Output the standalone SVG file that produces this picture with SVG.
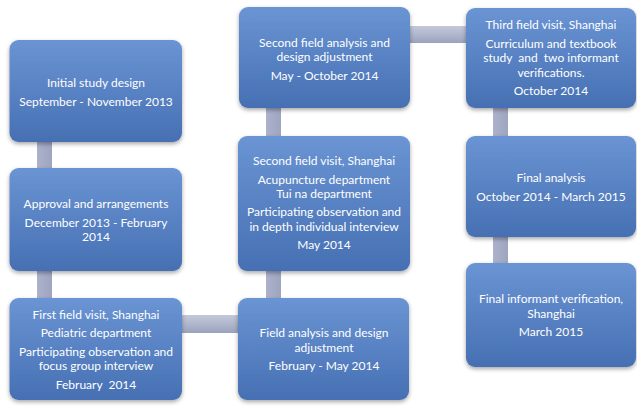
<svg xmlns="http://www.w3.org/2000/svg" width="637" height="412" viewBox="0 0 637 412">
  <defs>
    <linearGradient id="boxFill" x1="0" y1="0" x2="0" y2="1">
      <stop offset="0" stop-color="#6a94d3"/>
      <stop offset="1" stop-color="#4670b3"/>
    </linearGradient>
    <linearGradient id="barH" x1="0" y1="0" x2="0" y2="1">
      <stop offset="0" stop-color="#c3c9da"/>
      <stop offset="0.5" stop-color="#b0b7cc"/>
      <stop offset="1" stop-color="#9aa2bd"/>
    </linearGradient>
    <linearGradient id="barV" x1="0" y1="0" x2="1" y2="0">
      <stop offset="0" stop-color="#acb2cb"/>
      <stop offset="1" stop-color="#9ea5c0"/>
    </linearGradient>
    <filter id="shadow" x="-10%" y="-10%" width="120%" height="130%">
      <feDropShadow dx="0" dy="2" stdDeviation="2" flood-color="#000" flood-opacity="0.35"/>
    </filter>
  </defs>
  <style>
    .box { fill: url(#boxFill); filter: url(#shadow); }
    .lbl { font-family: Lato, "Open Sans", sans-serif; font-size: 12px; fill: #ffffff; text-anchor: middle; }
    .h { fill: url(#barH); }
    .v { fill: url(#barV); }
  </style>
  <rect width="637" height="412" fill="#ffffff"/>

  <!-- connecting bars between stages -->
  <g id="connectors">
    <rect class="v" x="37" y="140" width="15" height="30"/>
    <rect class="v" x="37" y="269" width="15" height="31"/>
    <rect class="h" x="180" y="315" width="60" height="18"/>
    <rect class="v" x="266" y="269" width="15" height="31"/>
    <rect class="v" x="266" y="106" width="15" height="32"/>
    <rect class="h" x="408" y="26" width="60" height="17"/>
    <rect class="v" x="493" y="106" width="15" height="32"/>
    <rect class="v" x="493" y="235" width="15" height="30"/>
  </g>

  <g id="initial-design">
    <rect class="box" x="9.5" y="40" width="172.5" height="102" rx="9"/>
    <text class="lbl" x="96" y="87">Initial study design</text>
    <text class="lbl" x="96" y="105.5">September - November 2013</text>
  </g>

  <g id="approval">
    <rect class="box" x="9.5" y="168" width="172.5" height="103" rx="9"/>
    <text class="lbl" x="96" y="208">Approval and arrangements</text>
    <text class="lbl" x="96" y="226.5">December 2013 - February</text>
    <text class="lbl" x="96" y="241">2014</text>
  </g>

  <g id="first-visit">
    <rect class="box" x="9.5" y="298" width="172.5" height="102" rx="9"/>
    <text class="lbl" x="96" y="318.5">First field visit, Shanghai</text>
    <text class="lbl" x="96" y="337">Pediatric department</text>
    <text class="lbl" x="96" y="355.5">Participating observation and</text>
    <text class="lbl" x="96" y="370">focus group interview</text>
    <text class="lbl" x="96" y="388.5" xml:space="preserve">February  2014</text>
  </g>

  <g id="field-analysis">
    <rect class="box" x="238" y="298" width="171" height="102" rx="9"/>
    <text class="lbl" x="324" y="337">Field analysis and design</text>
    <text class="lbl" x="324" y="351.5">adjustment</text>
    <text class="lbl" x="324" y="370">February - May 2014</text>
  </g>

  <g id="second-visit">
    <rect class="box" x="238" y="136" width="172" height="135" rx="9"/>
    <text class="lbl" x="324" y="165">Second field visit, Shanghai</text>
    <text class="lbl" x="324" y="183.5">Acupuncture department</text>
    <text class="lbl" x="324" y="198">Tui na department</text>
    <text class="lbl" x="324" y="216">Participating observation and</text>
    <text class="lbl" x="324" y="230.5">in depth individual interview</text>
    <text class="lbl" x="324" y="249">May 2014</text>
  </g>

  <g id="second-analysis">
    <rect class="box" x="239" y="7" width="171" height="101" rx="9"/>
    <text class="lbl" x="324.5" y="46.5">Second field analysis and</text>
    <text class="lbl" x="324.5" y="61">design adjustment</text>
    <text class="lbl" x="324.5" y="79.5">May - October 2014</text>
  </g>

  <g id="third-visit">
    <rect class="box" x="466" y="8" width="170" height="100" rx="9"/>
    <text class="lbl" x="551" y="29">Third field visit, Shanghai</text>
    <text class="lbl" x="551" y="47.5">Curriculum and textbook</text>
    <text class="lbl" x="551" y="62" xml:space="preserve">study  and  two informant</text>
    <text class="lbl" x="551" y="76.5">verifications.</text>
    <text class="lbl" x="551" y="94.5">October 2014</text>
  </g>

  <g id="final-analysis">
    <rect class="box" x="466" y="136" width="170" height="101" rx="9"/>
    <text class="lbl" x="551" y="182">Final analysis</text>
    <text class="lbl" x="551" y="200.5">October 2014 - March 2015</text>
  </g>

  <g id="final-verification">
    <rect class="box" x="466" y="263" width="170" height="104" rx="9"/>
    <text class="lbl" x="551" y="303">Final informant verification,</text>
    <text class="lbl" x="551" y="317.5">Shanghai</text>
    <text class="lbl" x="551" y="336">March 2015</text>
  </g>
</svg>
